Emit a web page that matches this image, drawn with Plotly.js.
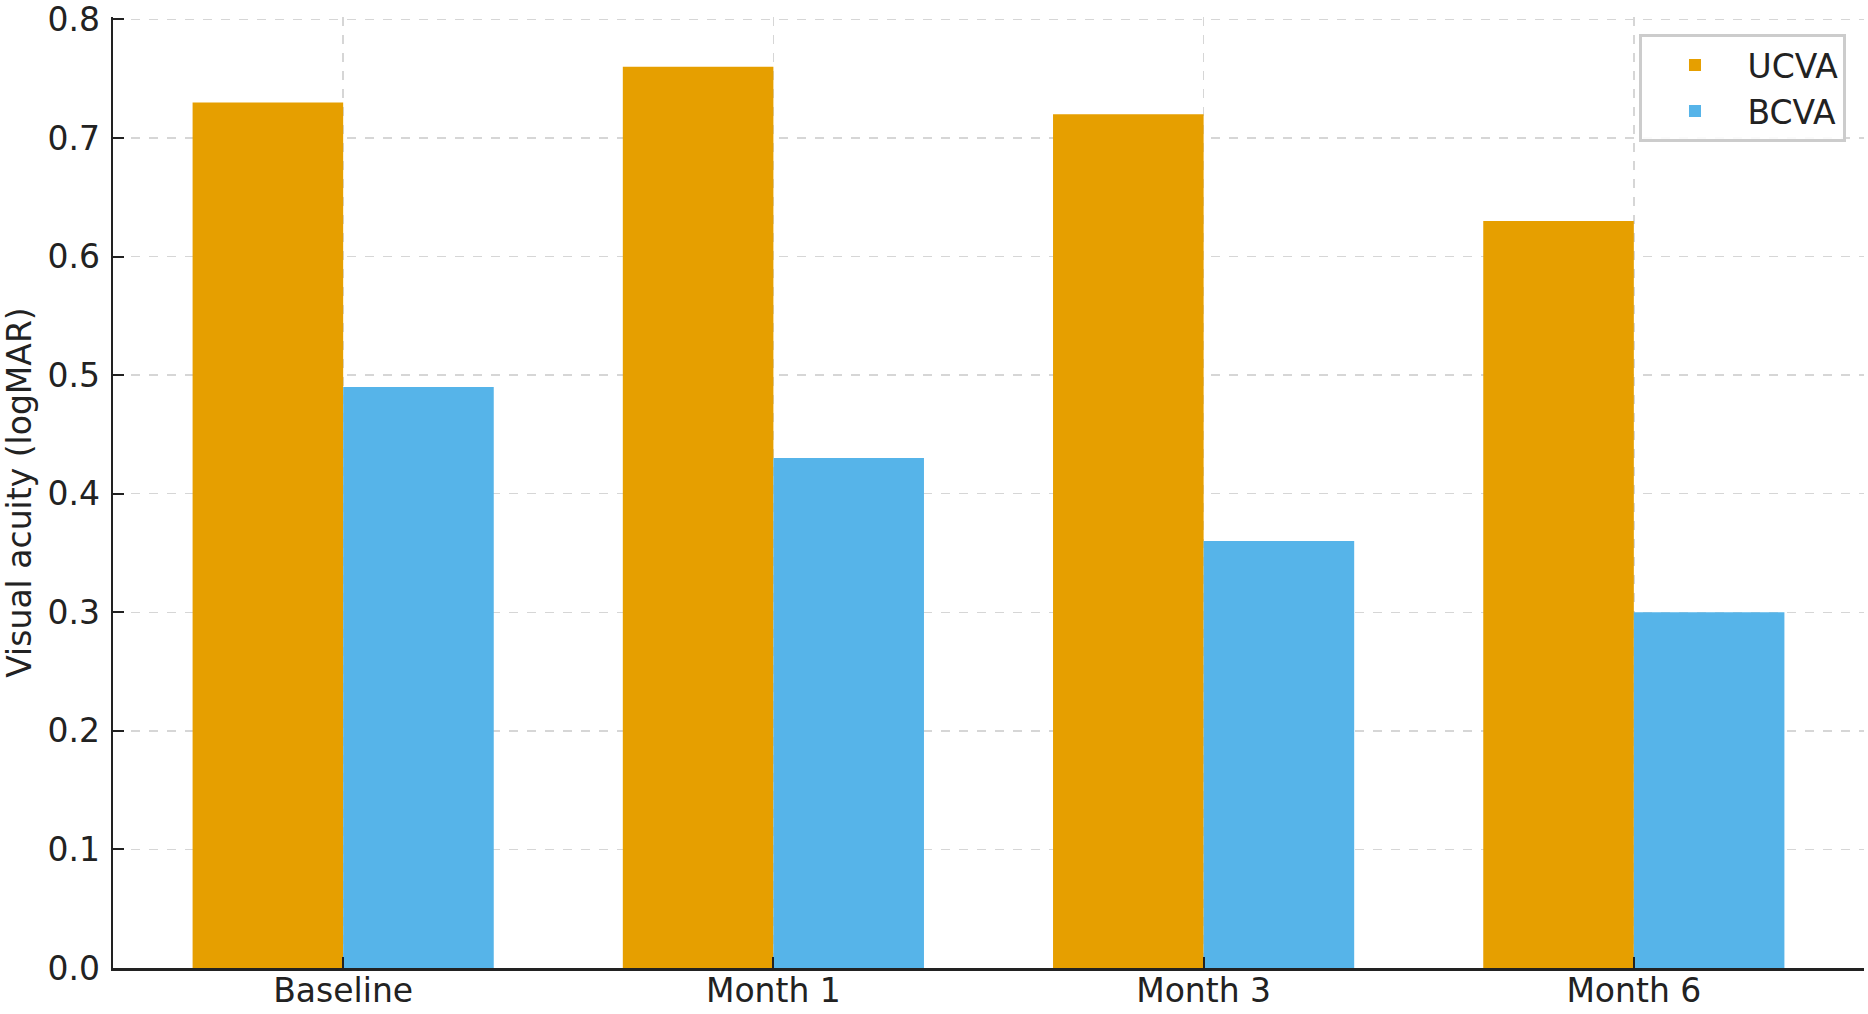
<!DOCTYPE html>
<html>
<head>
<meta charset="utf-8">
<script src="https://cdn.plot.ly/plotly-3.0.1.min.js"></script>
<style>
  html, body { margin: 0; padding: 0; background: #fff; }
  #plot { width: 1868px; height: 1014px; }
</style>
</head>
<body>
<div id="plot"></div>
<script>
// data
var visits = ['Baseline', 'Month 1', 'Month 3', 'Month 6']
var ucva = [0.73, 0.76, 0.72, 0.63]
var bcva = [0.49, 0.43, 0.36, 0.30]
var yTicks = [0.0, 0.1, 0.2, 0.3, 0.4, 0.5, 0.6, 0.7, 0.8]
var yTickText = ['0.0', '0.1', '0.2', '0.3', '0.4', '0.5', '0.6', '0.7', '0.8']

function draw() {
  var font = 'DejaVu Sans, sans-serif'
  var ink = '#222222'

  var trace1 = {
    x: visits,
    y: ucva,
    type: 'bar',
    name: 'UCVA',
    marker: { color: '#E69F00', line: { width: 0 } }
  }

  var trace2 = {
    x: visits,
    y: bcva,
    type: 'bar',
    name: 'BCVA',
    marker: { color: '#56B4E9', line: { width: 0 } }
  }

  var layout = {
    width: 1868,
    height: 1014,
    paper_bgcolor: '#fff',
    plot_bgcolor: '#fff',
    font: { family: font, size: 33, color: ink },
    barmode: 'group',
    bargap: 0.3,
    bargroupgap: 0,
    margin: { l: 113, r: 4, t: 17, b: 46 },
    showlegend: true,
    legend: {
      x: 0.99, y: 0.982, xanchor: 'right', yanchor: 'top',
      bgcolor: 'rgba(255,255,255,0.9)',
      bordercolor: '#cccccc',
      borderwidth: 3,
      font: { family: font, size: 33, color: ink },
      itemwidth: 95,
      tracegroupgap: 4
    },
    xaxis: {
      type: 'category',
      range: [-0.535, 3.535],
      showline: true, linecolor: ink, linewidth: 2.5,
      ticks: 'inside', ticklen: 11, tickwidth: 2, tickcolor: ink,
      ticklabelstandoff: -8,
      showgrid: true, gridcolor: '#d6d6d6', griddash: 'dash', gridwidth: 1.5,
      zeroline: false,
      tickfont: { family: font, size: 33, color: ink }
    },
    yaxis: {
      range: [0, 0.802],
      tickvals: yTicks,
      ticktext: yTickText,
      ticklabeloverflow: 'allow',
      showline: true, linecolor: ink, linewidth: 2.5,
      ticks: 'inside', ticklen: 11, tickwidth: 2, tickcolor: ink,
      ticklabelstandoff: 4,
      showgrid: true, gridcolor: '#d6d6d6', griddash: 'dash', gridwidth: 1.5,
      zeroline: false,
      tickfont: { family: font, size: 33, color: ink },
      title: { text: 'Visual acuity (logMAR)', font: { family: font, size: 33, color: ink }, standoff: 8 }
    }
  }

  Plotly.newPlot('plot', [trace1, trace2], layout, { displayModeBar: false, staticPlot: true })
}

draw()
</script>
</body>
</html>
